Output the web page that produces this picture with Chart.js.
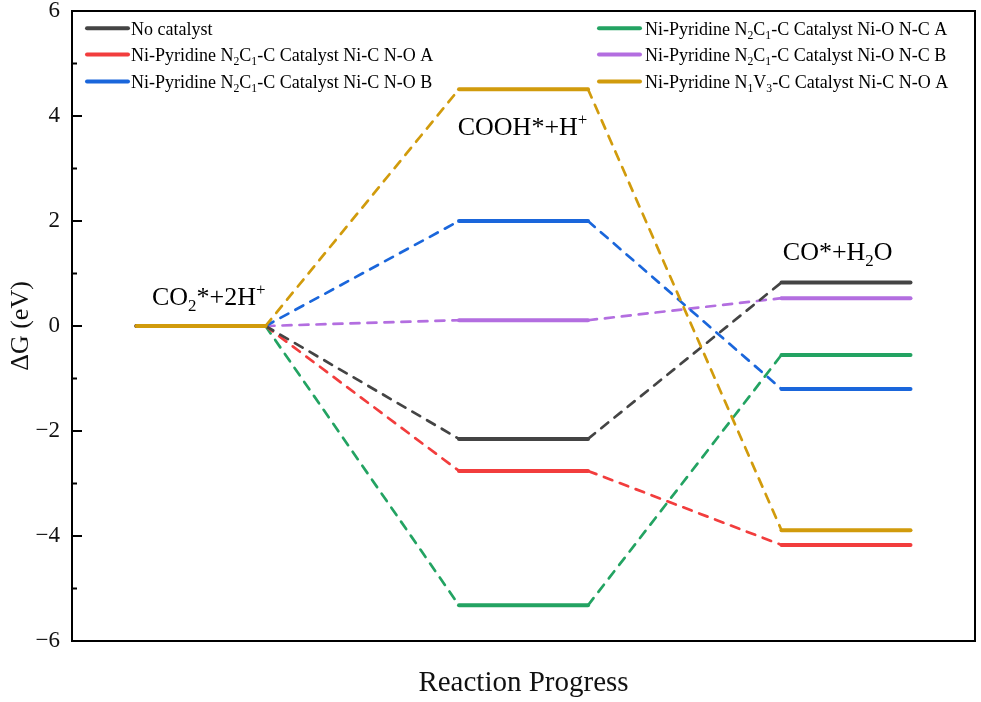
<!DOCTYPE html>
<html><head><meta charset="utf-8">
<script src="https://cdn.jsdelivr.net/npm/chart.js@4/dist/chart.umd.min.js"></script>
<style>html,body{margin:0;padding:0;background:#fff}#wrap{width:981px;height:702px}</style>
</head><body><div id="wrap"><canvas id="c" width="981" height="702"></canvas></div>
<script>
// ---- data ----
const seriesNames = [
  'No catalyst',
  'Ni-Pyridine N_2C_1-C Catalyst Ni-C N-O A',
  'Ni-Pyridine N_2C_1-C Catalyst Ni-C N-O B',
  'Ni-Pyridine N_2C_1-C Catalyst Ni-O N-C A',
  'Ni-Pyridine N_2C_1-C Catalyst Ni-O N-C B',
  'Ni-Pyridine N_1V_3-C Catalyst Ni-C N-O A'
];
const seriesColors = ['#444444', '#f23d3d', '#1a66db', '#23a362', '#b36ee0', '#d19b0c'];
const stepLabels = ['CO_2*+2H^+', 'COOH*+H^+', 'CO*+H_2O'];
const levelStart = [0.5, 3, 5.5];
const levelEnd = [1.5, 4, 6.5];
const noCatalyst = [0, -2.15, 0.83];
const ncoA = [0, -2.76, -4.17];
const ncoB = [0, 2.00, -1.20];
const oncA = [0, -5.32, -0.55];
const oncB = [0, 0.11, 0.53];
const n1v3 = [0, 4.51, -3.89];
const yTicks = [-6, -4, -2, 0, 2, 4, 6];

const seriesValues = [noCatalyst, ncoA, ncoB, oncA, oncB, n1v3];
const SERIF = '"Liberation Serif", "Times New Roman", serif';

function buildPoints(vals) {
  const pts = [];
  vals.forEach((v, i) => { pts.push({x: levelStart[i], y: v}); pts.push({x: levelEnd[i], y: v}); });
  return pts;
}

function drawRich(ctx, str, x, y, size) {
  const parts = []; let buf = ''; let i = 0;
  while (i < str.length) {
    const ch = str[i];
    if ((ch === '_' || ch === '^') && i + 1 < str.length) {
      if (buf) { parts.push({t: buf, m: ''}); buf = ''; }
      parts.push({t: str[i + 1], m: ch === '_' ? 'sub' : 'sup'}); i += 2;
    } else { buf += ch; i++; }
  }
  if (buf) parts.push({t: buf, m: ''});
  const small = size * 0.65;
  ctx.textAlign = 'left'; ctx.textBaseline = 'alphabetic';
  let cx = x;
  parts.forEach(p => {
    ctx.font = (p.m ? small : size) + 'px ' + SERIF;
    const dy = p.m === 'sub' ? size * 0.24 : (p.m === 'sup' ? -size * 0.40 : 0);
    ctx.fillText(p.t, cx, y + dy);
    cx += ctx.measureText(p.t).width;
  });
}

const labelPos = [{x: 0.62, y: 0.40}, {x: 2.99, y: 3.64}, {x: 5.51, y: 1.26}];

const decor = {
  id: 'decor',
  afterDraw(chart) {
    const ctx = chart.ctx; const a = chart.chartArea;
    const ys = chart.scales.y, xs = chart.scales.x;
    ctx.save();
    // top & right frame
    ctx.strokeStyle = '#000'; ctx.lineWidth = 2;
    ctx.beginPath(); ctx.moveTo(a.left, a.top); ctx.lineTo(a.right, a.top); ctx.lineTo(a.right, a.bottom); ctx.stroke();
    // inward ticks on y axis
    for (let v = -6; v <= 6; v++) {
      const py = ys.getPixelForValue(v);
      const len = (v % 2 === 0) ? 10 : 5;
      ctx.beginPath(); ctx.moveTo(a.left, py); ctx.lineTo(a.left + len, py); ctx.stroke();
    }
    // step labels
    ctx.fillStyle = '#000';
    stepLabels.forEach((s, i) => {
      drawRich(ctx, s, xs.getPixelForValue(labelPos[i].x), ys.getPixelForValue(labelPos[i].y), 26);
    });
    // legend
    const cols = [{lx: 86, tx: 131}, {lx: 598, tx: 645}];
    const rows = [28.3, 54.5, 81.5];
    seriesNames.forEach((n, i) => {
      const c = cols[Math.floor(i / 3)], ry = rows[i % 3];
      ctx.strokeStyle = seriesColors[i]; ctx.lineWidth = 4; ctx.lineCap = 'round';
      ctx.beginPath(); ctx.moveTo(c.lx + 1, ry); ctx.lineTo(c.lx + 42, ry); ctx.stroke();
      ctx.fillStyle = '#000';
      drawRich(ctx, n, c.tx, ry + 6.5, 18);
    });
    ctx.restore();
  }
};

const datasets = seriesValues.map((vals, i) => ({
  label: seriesNames[i].replace(/[_^]/g, ''),
  data: buildPoints(vals),
  borderColor: seriesColors[i],
  backgroundColor: seriesColors[i],
  borderWidth: 4,
  borderCapStyle: 'round',
  pointRadius: 0,
  fill: false,
  tension: 0,
  order: i === 5 ? -1 : 0,
  segment: {
    borderDash: ctx => (ctx.p0DataIndex % 2 === 1 ? [9, 8] : undefined),
    borderWidth: ctx => (ctx.p0DataIndex % 2 === 1 ? 2.7 : 4)
  }
}));

new Chart(document.getElementById('c'), {
  type: 'line',
  data: {datasets},
  options: {
    responsive: false,
    animation: false,
    layout: {padding: {top: 11, right: 6, left: 0, bottom: 0}},
    plugins: {legend: {display: false}, tooltip: {enabled: false}},
    scales: {
      x: {
        type: 'linear', min: 0, max: 7,
        ticks: {display: false},
        grid: {display: false, drawTicks: false},
        border: {display: true, color: '#000', width: 2},
        title: {display: true, text: 'Reaction Progress', color: '#111', font: {family: SERIF, size: 29}, padding: {top: 0, bottom: 1}},
        afterFit(s) { s.height = 61; s.paddingLeft = 0; s.paddingRight = 0; s.paddingTop = 0; s.paddingBottom = 0; }
      },
      y: {
        min: -6, max: 6,
        afterBuildTicks(s) { s.ticks = yTicks.map(v => ({value: v})); },
        ticks: {
          color: '#111', padding: 12,
          font: {family: SERIF, size: 23},
          callback: v => (v < 0 ? '\u2212' + Math.abs(v) : String(v))
        },
        grid: {display: false, drawTicks: false},
        border: {display: true, color: '#000', width: 2},
        title: {display: true, text: '\u0394G (eV)', color: '#111', font: {family: SERIF, size: 26}, padding: {top: 6, bottom: 0}},
        afterFit(s) { s.width = 72; s.paddingTop = 0; s.paddingBottom = 0; s.paddingLeft = 0; s.paddingRight = 0; }
      }
    }
  },
  plugins: [decor]
});
</script></body></html>
